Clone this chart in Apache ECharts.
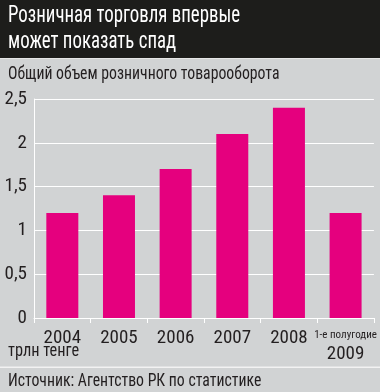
<!DOCTYPE html>
<html><head><meta charset="utf-8">
<script src="https://cdn.jsdelivr.net/npm/echarts@6/dist/echarts.min.js"></script>
<style>html,body{margin:0;padding:0;background:#d1d3d4}#c{width:380px;height:392px}</style>
</head><body><div id="c"></div>
<script>
const titleLines = ['Розничная торговля впервые', 'может показать спад'];
const subtitle = 'Общий объем розничного товарооборота';
const unitLabel = 'трлн тенге';
const sourceText = 'Источник: Агентство РК по статистике';
const categories = ['2004', '2005', '2006', '2007', '2008', '1-е полугодие\n2009'];
const values = [1.2, 1.4, 1.7, 2.1, 2.4, 1.2];
const yTicks = [0, 0.5, 1, 1.5, 2, 2.5];

const FONT = '"Roboto Condensed", "DejaVu Sans Condensed", sans-serif';
const TXT = '#231f20';
const chart = echarts.init(document.getElementById('c'), null, {renderer: 'canvas'});
chart.setOption({
  backgroundColor: '#d1d3d4',
  animation: false,
  graphic: [
    {type: 'rect', x: 0, y: 0, shape: {width: 380, height: 58}, style: {fill: '#1d1d1b'}},
    {type: 'rect', x: 0, y: 58, shape: {width: 380, height: 1}, style: {fill: '#e6e6e6'}},
    {type: 'text', x: 8, y: 3, scaleX: 0.82, style: {text: titleLines.join('\n'), fill: '#ffffff', font: '23px ' + FONT, lineHeight: 26}},
    {type: 'text', x: 8, y: 65, scaleX: 0.83, style: {text: subtitle, fill: TXT, font: '19px ' + FONT}},
    {type: 'text', x: 8, y: 342, scaleX: 0.86, style: {text: unitLabel, fill: TXT, font: '19px ' + FONT}},
    {type: 'rect', x: 0, y: 366.5, shape: {width: 380, height: 1.5}, style: {fill: '#f2f2f2'}},
    {type: 'text', x: 8, y: 372, scaleX: 0.83, style: {text: sourceText, fill: TXT, font: '19px ' + FONT}}
  ],
  grid: {left: 34, right: 6, top: 99, bottom: 74},
  xAxis: {
    type: 'category', data: categories,
    axisLine: {lineStyle: {color: '#ffffff', width: 1}},
    axisTick: {show: true, length: 5, lineStyle: {color: '#ffffff'}},
    axisLabel: {
      interval: 0, margin: 7,
      formatter: function (v) {
        if (v.indexOf('\n') >= 0) { const p = v.split('\n'); return '{s|' + p[0] + '}\n{b2|' + p[1] + '}'; }
        return '{b|' + v + '}';
      },
      rich: {
        b: {fontSize: 19, fontFamily: FONT, color: TXT, lineHeight: 26},
        s: {fontSize: 11, fontFamily: FONT, color: TXT, lineHeight: 21},
        b2: {fontSize: 19, fontFamily: FONT, color: TXT, lineHeight: 16}
      }
    }
  },
  yAxis: {
    type: 'value', min: 0, max: 2.5, interval: 0.5,
    axisLine: {show: true, lineStyle: {color: '#ffffff'}},
    axisTick: {show: false},
    splitLine: {lineStyle: {color: '#ffffff', width: 1}},
    axisLabel: {
      margin: 7, fontSize: 19, fontFamily: FONT, color: TXT,
      formatter: function (v) { return yTicks.indexOf(v) >= 0 ? String(v).replace('.', ',') : ''; }
    }
  },
  series: [{
    type: 'bar', data: values, barWidth: 32,
    itemStyle: {color: '#e5007e'}
  }]
});
</script></body></html>
